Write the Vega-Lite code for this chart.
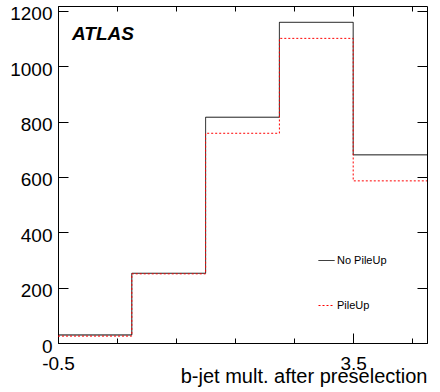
{
  "$schema": "https://vega.github.io/schema/vega-lite/v6.json",
  "width": 369,
  "height": 337,
  "autosize": {"type": "none"},
  "padding": {"left": 58, "top": 6, "right": 13, "bottom": 49},
  "title": {
    "text": "ATLAS",
    "anchor": "start",
    "frame": "group",
    "orient": "top",
    "font": "Liberation Sans",
    "fontSize": 19,
    "fontWeight": "bold",
    "fontStyle": "italic",
    "color": "black",
    "baseline": "alphabetic",
    "offset": 0,
    "dx": 14,
    "dy": 54
  },
  "config": {
    "view": {"stroke": "black", "strokeWidth": 1},
    "legend": {"labelFont": "Liberation Sans", "labelColor": "black"}
  },
  "data": {
    "values": [
      {"series": "No PileUp", "lo": -0.5, "hi": 0.5, "count": 29},
      {"series": "No PileUp", "lo": 0.5, "hi": 1.5, "count": 252},
      {"series": "No PileUp", "lo": 1.5, "hi": 2.5, "count": 816},
      {"series": "No PileUp", "lo": 2.5, "hi": 3.5, "count": 1159},
      {"series": "No PileUp", "lo": 3.5, "hi": 4.5, "count": 680},
      {"series": "PileUp", "lo": -0.5, "hi": 0.5, "count": 25},
      {"series": "PileUp", "lo": 0.5, "hi": 1.5, "count": 250},
      {"series": "PileUp", "lo": 1.5, "hi": 2.5, "count": 758},
      {"series": "PileUp", "lo": 2.5, "hi": 3.5, "count": 1101},
      {"series": "PileUp", "lo": 3.5, "hi": 4.5, "count": 586}
    ]
  },
  "layer": [
    {
      "transform": [
        {"filter": "datum.series == 'No PileUp'"},
        {"fold": ["lo", "hi"], "as": ["edge", "xpos"]}
      ],
      "mark": {"type": "line", "strokeWidth": 1, "interpolate": "linear"},
      "encoding": {
        "x": {
          "field": "xpos",
          "type": "quantitative",
          "scale": {"domain": [-0.5, 4.5], "nice": false, "zero": false},
          "axis": {
            "orient": "bottom",
            "domainColor": "#000000",
            "ticks": false,
            "grid": true,
            "gridColor": "#000000",
            "gridWidth": 1,
            "gridOpacity": 1,
            "gridDash": {"condition": {"test": "abs(datum.value*2-round(datum.value*2))<0.01", "value": [10, 317]}, "value": [5, 327]},
            "labelFlush": false,
            "labelOverlap": false,
            "title": "b-jet mult. after preselection",
            "titleFont": "Liberation Sans",
            "titleColor": "black",
            "titleFontSize": 20,
            "titleFontWeight": "normal",
            "titleAlign": "right",
            "titleAnchor": "end",
            "titleBaseline": "alphabetic",
            "titleX": 369,
            "titleY": 39,
            "values": [-0.5, -0.4, -0.3, -0.2, -0.1, 0, 0.1, 0.2, 0.3, 0.4, 0.5, 0.6, 0.7, 0.8, 0.9, 1, 1.1, 1.2, 1.3, 1.4, 1.5, 1.6, 1.7, 1.8, 1.9, 2, 2.1, 2.2, 2.3, 2.4, 2.5, 2.6, 2.7, 2.8, 2.9, 3, 3.1, 3.2, 3.3, 3.4, 3.5, 3.6, 3.7, 3.8, 3.9, 4, 4.1, 4.2, 4.3, 4.4, 4.5],
            "labelExpr": "abs(datum.value*2-round(datum.value*2))<0.01 ? toString(round(datum.value*2)/2) : ''",
            "labelFont": "Liberation Sans",
            "labelColor": "black",
            "labelFontSize": 19,
            "labelPadding": 11,
            "labelAlign": "center",
            "labelBaseline": "top"
          }
        },
        "y": {
          "field": "count",
          "type": "quantitative",
          "scale": {"domain": [0, 1218], "nice": false},
          "axis": {
            "orient": "left",
            "domainColor": "#000000",
            "ticks": false,
            "grid": true,
            "gridColor": "#000000",
            "gridWidth": 1,
            "gridOpacity": 1,
            "gridDash": {"condition": {"test": "datum.value % 200 == 0", "value": [10, 349]}, "value": [5, 359]},
            "labelFlush": false,
            "labelOverlap": false,
            "title": null,
            "values": [0, 50, 100, 150, 200, 250, 300, 350, 400, 450, 500, 550, 600, 650, 700, 750, 800, 850, 900, 950, 1000, 1050, 1100, 1150, 1200],
            "labelExpr": "datum.value % 200 == 0 ? toString(datum.value) : ''",
            "labelFont": "Liberation Sans",
            "labelColor": "black",
            "labelFontSize": 19,
            "labelPadding": 6,
            "labelAlign": "right",
            "labelBaseline": "middle",
            "labelOffset": 3
          }
        },
        "color": {
          "field": "series",
          "type": "nominal",
          "scale": {"domain": ["No PileUp", "PileUp"], "range": ["#000000", "#ff0000"]},
          "legend": {
            "orient": "none",
            "legendX": 260,
            "legendY": 246,
            "title": null,
            "symbolType": "stroke",
            "symbolSize": 256,
            "symbolStrokeWidth": 1,
            "labelFontSize": 11,
            "labelOffset": 2,
            "rowPadding": 31,
            "padding": 0
          }
        },
        "strokeDash": {
          "field": "series",
          "type": "nominal",
          "scale": {"domain": ["No PileUp", "PileUp"], "range": [[1, 0], [2, 2]]},
          "legend": {
            "orient": "none",
            "legendX": 260,
            "legendY": 246,
            "title": null,
            "symbolType": "stroke",
            "symbolSize": 256,
            "symbolStrokeWidth": 1,
            "labelFontSize": 11,
            "labelOffset": 2,
            "rowPadding": 31,
            "padding": 0
          }
        },
        "order": {"value": null}
      }
    },
    {
      "transform": [
        {"filter": "datum.series == 'PileUp'"},
        {"fold": ["lo", "hi"], "as": ["edge", "xpos"]}
      ],
      "mark": {"type": "line", "strokeWidth": 1, "interpolate": "linear"},
      "encoding": {
        "x": {"field": "xpos", "type": "quantitative"},
        "y": {"field": "count", "type": "quantitative"},
        "color": {"field": "series", "type": "nominal"},
        "strokeDash": {"field": "series", "type": "nominal"},
        "order": {"value": null}
      }
    }
  ]
}
